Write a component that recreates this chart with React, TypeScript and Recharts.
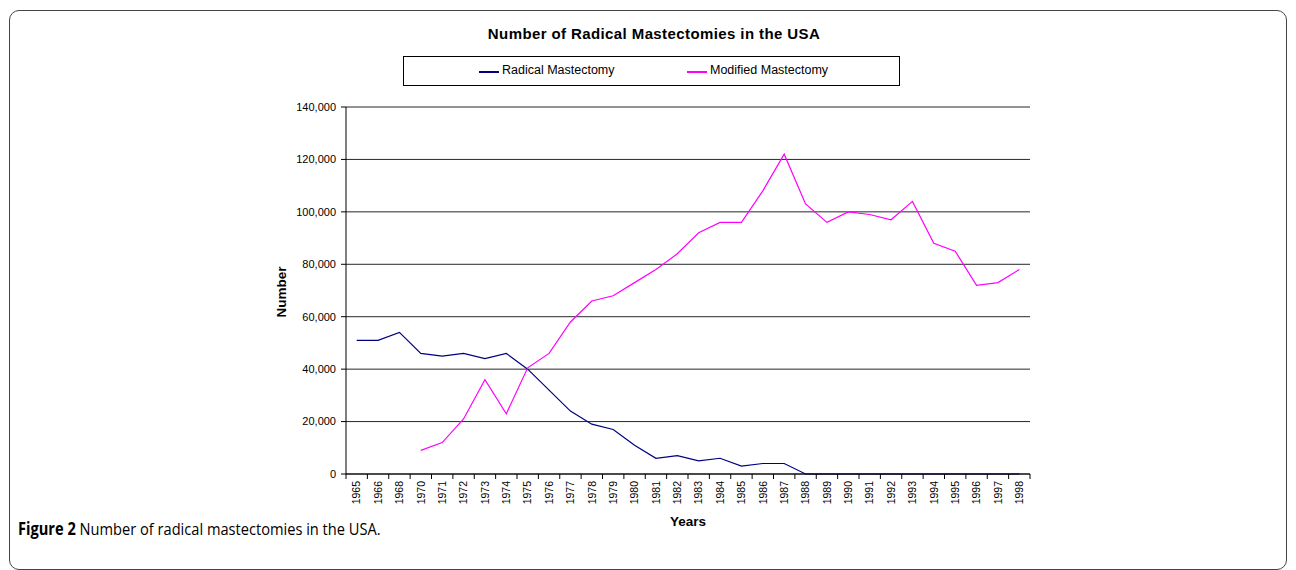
import { LineChart, Line, XAxis, YAxis, CartesianGrid, Label } from 'recharts';

const years = [
  '1965', '1966', '1968', '1970', '1971', '1972', '1973', '1974', '1975', '1976', '1977',
  '1978', '1979', '1980', '1981', '1982', '1983', '1984', '1985', '1986', '1987', '1988',
  '1989', '1990', '1991', '1992', '1993', '1994', '1995', '1996', '1997', '1998',
];

const radical = [
  51000, 51000, 54000, 46000, 45000, 46000, 44000, 46000, 40000, 32000, 24000,
  19000, 17000, 11000, 6000, 7000, 5000, 6000, 3000, 4000, 4000, 0,
  0, 0, 0, 0, 0, 0, 0, 0, 0, 0,
];

const modified = [
  null, null, null, 9000, 12000, 21000, 36000, 23000, 40500, 46000, 58000,
  66000, 68000, 73000, 78000, 84000, 92000, 96000, 96000, 108000, 122000, 103000,
  96000, 100000, 99000, 97000, 104000, 88000, 85000, 72000, 73000, 78000,
];

const yTicks = [0, 20000, 40000, 60000, 80000, 100000, 120000, 140000];

const chartData = years.map((year, i) => ({
  year,
  radical: radical[i],
  modified: modified[i],
}));

const AXIS_FONT = 'Arial, "Liberation Sans", Helvetica, sans-serif';
const PLOT_WIDTH = 684;
const HALF_BAND = PLOT_WIDTH / years.length / 2;

// rotated year labels, tick marks drawn on the category boundaries like Excel does
const YearTick = (props: any) => {
  const { x, y, payload, index } = props;
  const axisY = y - 7;
  return (
    <g>
      <line x1={x - HALF_BAND} y1={axisY} x2={x - HALF_BAND} y2={axisY + 5} stroke="#000" />
      {index === years.length - 1 && (
        <line x1={x + HALF_BAND} y1={axisY} x2={x + HALF_BAND} y2={axisY + 5} stroke="#000" />
      )}
      <g transform={`translate(${x},${y})`}>
        <text
          transform="rotate(-90)"
          textAnchor="end"
          x={0}
          y={0}
          dy="0.35em"
          fontSize={10.5}
          fontFamily={AXIS_FONT}
          fill="#000"
        >
          {payload.value}
        </text>
      </g>
    </g>
  );
};

const LegendBox = () => (
  <div
    style={{
      position: 'absolute',
      left: 403,
      top: 56,
      width: 497,
      height: 30,
      border: '1px solid #000',
      boxSizing: 'border-box',
      fontFamily: AXIS_FONT,
      fontSize: 12.5,
      color: '#000',
    }}
  >
    <div style={{ position: 'absolute', left: 75, top: 14, width: 20, height: 1.5, background: '#000080' }} />
    <div style={{ position: 'absolute', left: 98, top: 6 }}>Radical Mastectomy</div>
    <div style={{ position: 'absolute', left: 283, top: 14, width: 20, height: 1.5, background: '#FF00FF' }} />
    <div style={{ position: 'absolute', left: 306, top: 6 }}>Modified Mastectomy</div>
  </div>
);

export default function App() {
  return (
    <div style={{ position: 'absolute', left: 0, top: 0, width: 1296, height: 570, background: '#fff', overflow: 'hidden' }}>
      <div
        style={{
          position: 'absolute',
          left: 9,
          top: 10,
          width: 1278,
          height: 560,
          border: '1px solid #444',
          borderRadius: 10,
          boxSizing: 'border-box',
        }}
      />
      <div
        style={{
          position: 'absolute',
          left: 0,
          width: 1308,
          top: 25,
          textAlign: 'center',
          fontFamily: AXIS_FONT,
          fontWeight: 'bold',
          fontSize: 15,
          letterSpacing: 0.4,
          color: '#000',
        }}
      >
        Number of Radical Mastectomies in the USA
      </div>
      <LegendBox />
      <div
        style={{
          position: 'absolute',
          left: 281,
          top: 292,
          transform: 'translate(-50%, -50%) rotate(-90deg)',
          fontFamily: AXIS_FONT,
          fontWeight: 'bold',
          fontSize: 13.5,
          color: '#000',
        }}
      >
        Number
      </div>
      <div style={{ position: 'absolute', left: 0, top: 0 }}>
        <LineChart
          width={1296}
          height={570}
          data={chartData}
          margin={{ top: 107, right: 266, left: 286, bottom: 44 }}
        >
          <CartesianGrid horizontal vertical={false} stroke="#000" strokeOpacity={0.85} />
          <XAxis
            dataKey="year"
            interval={0}
            tick={<YearTick />}
            tickLine={false}
            tickSize={5}
            tickMargin={2}
            height={52}
            padding={{ left: HALF_BAND, right: HALF_BAND }}
            axisLine={{ stroke: '#000' }}
          >
            <Label
              value="Years"
              position="insideBottom"
              offset={0}
              style={{ fontFamily: AXIS_FONT, fontWeight: 'bold', fontSize: 13.5, fill: '#000' }}
            />
          </XAxis>
          <YAxis
            width={60}
            domain={[0, 140000]}
            ticks={yTicks}
            interval={0}
            tickSize={5}
            tickMargin={5}
            tickFormatter={(v: number) => v.toLocaleString('en-US')}
            axisLine={{ stroke: '#000' }}
            tickLine={{ stroke: '#000' }}
            tick={{ fontSize: 11, fontFamily: AXIS_FONT, fill: '#000' }}
          />
          <Line
            type="linear"
            dataKey="radical"
            name="Radical Mastectomy"
            stroke="#000080"
            strokeWidth={1.2}
            dot={false}
            isAnimationActive={false}
          />
          <Line
            type="linear"
            dataKey="modified"
            name="Modified Mastectomy"
            stroke="#FF00FF"
            strokeWidth={1.2}
            dot={false}
            isAnimationActive={false}
          />
        </LineChart>
      </div>
      <div
        style={{
          position: 'absolute',
          left: 18,
          top: 517,
          fontFamily: '"Open Sans", "Noto Sans", sans-serif',
          fontSize: 17,
          transform: 'scaleX(0.86)',
          transformOrigin: 'left center',
          whiteSpace: 'nowrap',
          color: '#000',
        }}
      >
        <b>Figure 2</b> Number of radical mastectomies in the USA.
      </div>
    </div>
  );
}
